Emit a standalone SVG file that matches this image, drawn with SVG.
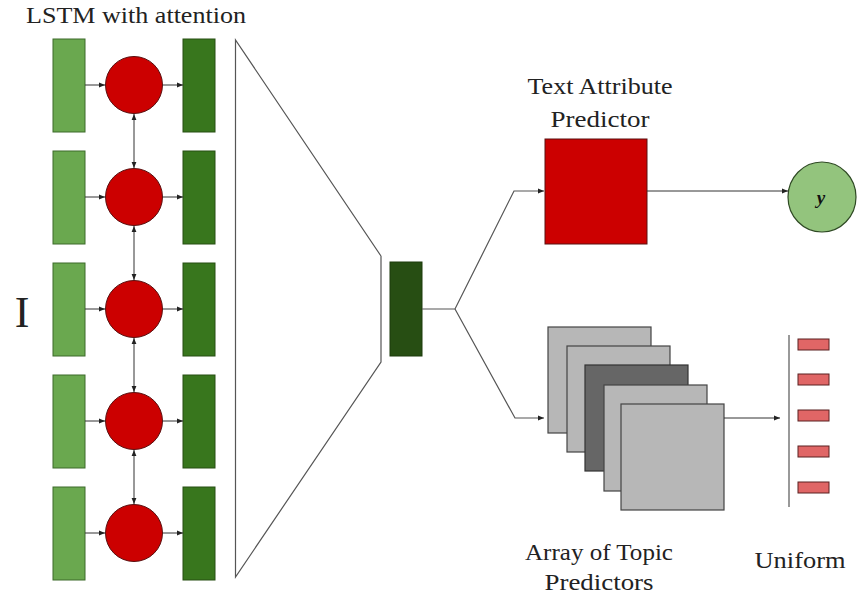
<svg xmlns="http://www.w3.org/2000/svg" width="865" height="594" viewBox="0 0 865 594">
<style>
.lbl{font-family:'Liberation Serif','DejaVu Serif',serif;fill:#222;font-size:24px;}
.in{fill:#6aa84f;stroke:#3d6b2a;stroke-width:1;}
.out{fill:#38761d;stroke:#274e13;stroke-width:1;}
.cell{fill:#cc0000;stroke:#5a1010;stroke-width:1;}
.ln{fill:none;stroke:#333;stroke-width:1;}
.tz{fill:none;stroke:#555;stroke-width:1.2;}
.lt{fill:#b7b7b7;stroke:#444;stroke-width:1.2;}
.dk{fill:#666666;stroke:#333;stroke-width:1.2;}
.bar{fill:#e06666;stroke:#5a2020;stroke-width:1;}
</style>
<defs>
<marker id="ah" viewBox="0 0 10 10" refX="10" refY="5" markerWidth="6" markerHeight="6" orient="auto-start-reverse" markerUnits="userSpaceOnUse">
<path d="M0,1 L10,5 L0,9 z" fill="#222"/>
</marker>
</defs>
<rect width="865" height="594" fill="#fff"/>
<text class="lbl" x="26" y="23" textLength="220" lengthAdjust="spacingAndGlyphs">LSTM with attention</text>
<text class="lbl" x="22" y="327" style="font-size:44px" text-anchor="middle">I</text>

<g id="row1"><rect class="in" x="53" y="39" width="32" height="93"/><circle class="cell" cx="134" cy="85" r="28.5"/><rect class="out" x="183" y="39" width="32" height="93"/></g>
<g id="row2"><rect class="in" x="53" y="151" width="32" height="93"/><circle class="cell" cx="134" cy="197" r="28.5"/><rect class="out" x="183" y="151" width="32" height="93"/></g>
<g id="row3"><rect class="in" x="53" y="263" width="32" height="93"/><circle class="cell" cx="134" cy="309" r="28.5"/><rect class="out" x="183" y="263" width="32" height="93"/></g>
<g id="row4"><rect class="in" x="53" y="375" width="32" height="93"/><circle class="cell" cx="134" cy="421" r="28.5"/><rect class="out" x="183" y="375" width="32" height="93"/></g>
<g id="row5"><rect class="in" x="53" y="487" width="32" height="93"/><circle class="cell" cx="134" cy="533" r="28.5"/><rect class="out" x="183" y="487" width="32" height="93"/></g>

<g id="funnel"><polyline class="tz" points="381,256 235.5,40 235.5,577 381,362 381,256"/></g>
<g id="context"><rect x="390" y="262" width="32" height="94" fill="#274e13" stroke="#1c3a0d" stroke-width="1"/></g>

<g id="text-attr">
<text class="lbl" x="600" y="94" text-anchor="middle" textLength="145" lengthAdjust="spacingAndGlyphs">Text Attribute</text>
<text class="lbl" x="600" y="127" text-anchor="middle" textLength="99" lengthAdjust="spacingAndGlyphs">Predictor</text>
<rect x="545" y="139" width="102" height="105" fill="#cc0000" stroke="#5a1010" stroke-width="1"/>
</g>
<g id="y-node">
<ellipse cx="822" cy="197" rx="34" ry="35" fill="#93c47d" stroke="#2f4a24" stroke-width="1.2"/>
<text x="821" y="204" font-size="19" font-weight="bold" font-style="italic" text-anchor="middle" font-family="Liberation Serif, serif" fill="#111">y</text>
</g>
<g id="topic-array">
<rect class="lt" x="548" y="327" width="103" height="106"/>
<rect class="lt" x="567" y="346" width="103" height="106"/>
<rect class="dk" x="585" y="365" width="103" height="106"/>
<rect class="lt" x="604" y="385" width="103" height="106"/>
<rect class="lt" x="621" y="404" width="103" height="106"/>
<text class="lbl" x="599" y="560" text-anchor="middle" textLength="148" lengthAdjust="spacingAndGlyphs">Array of Topic</text>
<text class="lbl" x="599" y="590" text-anchor="middle" textLength="109" lengthAdjust="spacingAndGlyphs">Predictors</text>
</g>
<g id="uniform">
<line x1="789" y1="335" x2="789" y2="507" stroke="#999" stroke-width="2"/>
<rect class="bar" x="798" y="339" width="31" height="11"/>
<rect class="bar" x="798" y="374" width="31" height="11"/>
<rect class="bar" x="798" y="410" width="31" height="11"/>
<rect class="bar" x="798" y="446" width="31" height="11"/>
<rect class="bar" x="798" y="482" width="31" height="11"/>
<text class="lbl" x="800" y="568" text-anchor="middle" textLength="91" lengthAdjust="spacingAndGlyphs">Uniform</text>
</g>

<g id="connectors">
<line class="ln" x1="85" y1="85" x2="105" y2="85" marker-end="url(#ah)"/>
<line class="ln" x1="163" y1="85" x2="183" y2="85" marker-end="url(#ah)"/>
<line class="ln" x1="85" y1="197" x2="105" y2="197" marker-end="url(#ah)"/>
<line class="ln" x1="163" y1="197" x2="183" y2="197" marker-end="url(#ah)"/>
<line class="ln" x1="85" y1="309" x2="105" y2="309" marker-end="url(#ah)"/>
<line class="ln" x1="163" y1="309" x2="183" y2="309" marker-end="url(#ah)"/>
<line class="ln" x1="85" y1="421" x2="105" y2="421" marker-end="url(#ah)"/>
<line class="ln" x1="163" y1="421" x2="183" y2="421" marker-end="url(#ah)"/>
<line class="ln" x1="85" y1="533" x2="105" y2="533" marker-end="url(#ah)"/>
<line class="ln" x1="163" y1="533" x2="183" y2="533" marker-end="url(#ah)"/>
<line class="ln" x1="134" y1="114" x2="134" y2="168" marker-start="url(#ah)" marker-end="url(#ah)"/>
<line class="ln" x1="134" y1="226" x2="134" y2="280" marker-start="url(#ah)" marker-end="url(#ah)"/>
<line class="ln" x1="134" y1="338" x2="134" y2="392" marker-start="url(#ah)" marker-end="url(#ah)"/>
<line class="ln" x1="134" y1="450" x2="134" y2="504" marker-start="url(#ah)" marker-end="url(#ah)"/>
<polyline class="tz" points="422,309 455,309 514,191 544,191" marker-end="url(#ah)"/>
<polyline class="tz" points="455,309 515,418 544,418" marker-end="url(#ah)"/>
<line class="ln" x1="647" y1="191" x2="788" y2="191" marker-end="url(#ah)"/>
<line class="ln" x1="724" y1="418" x2="780" y2="418" marker-end="url(#ah)"/>
</g>
</svg>
